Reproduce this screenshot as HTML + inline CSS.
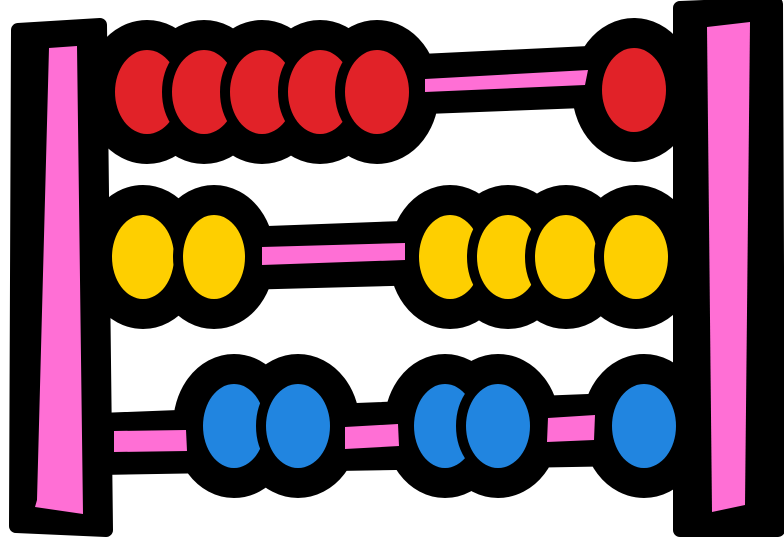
<!DOCTYPE html>
<html><head><style>html,body{margin:0;padding:0;background:#fff}svg{display:block}</style></head><body>
<svg width="784" height="539" viewBox="0 0 784 539" xmlns="http://www.w3.org/2000/svg">
<defs>
<g id="beads">
<ellipse cx="147" cy="92" rx="32" ry="42"/><ellipse cx="204" cy="92" rx="32" ry="42"/><ellipse cx="262" cy="92" rx="32" ry="42"/><ellipse cx="320" cy="92" rx="32" ry="42"/><ellipse cx="377" cy="92" rx="32" ry="42"/><ellipse cx="634" cy="90" rx="32" ry="42"/>
<ellipse cx="143" cy="257" rx="31" ry="42"/><ellipse cx="214" cy="257" rx="31" ry="42"/>
<ellipse cx="450" cy="257" rx="31" ry="42"/><ellipse cx="508" cy="257" rx="31" ry="42"/><ellipse cx="566" cy="257" rx="31" ry="42"/><ellipse cx="636" cy="257" rx="32" ry="42"/>
<ellipse cx="234" cy="426" rx="31" ry="42"/><ellipse cx="298" cy="426" rx="32" ry="42"/>
<ellipse cx="445" cy="426" rx="31" ry="42"/><ellipse cx="498" cy="426" rx="32" ry="42"/><ellipse cx="644" cy="426" rx="32" ry="42"/>
</g>
</defs>
<g fill="#000" stroke="#000" stroke-linejoin="round">
<polygon points="18,30 100,25 106,530 16,526" stroke-width="14"/>
<polygon points="680,8 776,4 778,530 680,530" stroke-width="14"/>
<use href="#beads" stroke-width="60"/>
<polygon points="400,60 610,50 610,102 400,110" stroke-width="10"/>
<polygon points="240,232 430,225 430,280 240,285" stroke-width="10"/>
<polygon points="100,418 690,395 690,460 100,470" stroke-width="10"/>
</g>
<polygon points="49,48 77,46 83,514 35,507 37,500" fill="#ff6fd5"/>
<polygon points="707,27 750,22 745,505 712,512" fill="#ff6fd5"/>
<polygon points="425,79 588,70 585,85 425,92" fill="#ff6fd5"/>
<polygon points="262,247 405,243 405,260 262,265" fill="#ff6fd5"/>
<polygon points="114,431 186,430 187,451 114,452" fill="#ff6fd5"/>
<polygon points="345,427 398,424 399,446 345,449" fill="#ff6fd5"/>
<polygon points="548,418 595,415 594,440 547,442" fill="#ff6fd5"/>
<g stroke="#000" stroke-width="20" paint-order="stroke">
<g fill="#e12228">
<ellipse cx="147" cy="92" rx="32" ry="42"/><ellipse cx="204" cy="92" rx="32" ry="42"/><ellipse cx="262" cy="92" rx="32" ry="42"/><ellipse cx="320" cy="92" rx="32" ry="42"/><ellipse cx="377" cy="92" rx="32" ry="42"/><ellipse cx="634" cy="90" rx="32" ry="42"/>
</g>
<g fill="#fecf00">
<ellipse cx="143" cy="257" rx="31" ry="42"/><ellipse cx="214" cy="257" rx="31" ry="42"/>
<ellipse cx="450" cy="257" rx="31" ry="42"/><ellipse cx="508" cy="257" rx="31" ry="42"/><ellipse cx="566" cy="257" rx="31" ry="42"/><ellipse cx="636" cy="257" rx="32" ry="42"/>
</g>
<g fill="#2185e0">
<ellipse cx="234" cy="426" rx="31" ry="42"/><ellipse cx="298" cy="426" rx="32" ry="42"/>
<ellipse cx="445" cy="426" rx="31" ry="42"/><ellipse cx="498" cy="426" rx="32" ry="42"/><ellipse cx="644" cy="426" rx="32" ry="42"/>
</g>
</g>
</svg>
</body></html>
